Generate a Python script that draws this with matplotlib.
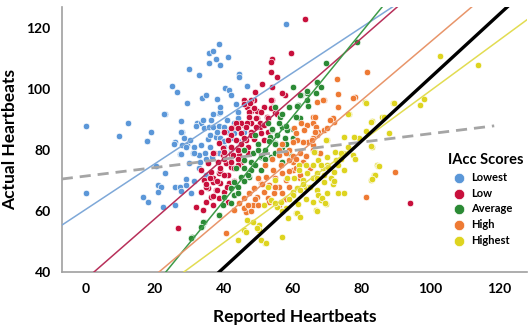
import matplotlib.pyplot as plt
import numpy as np

# group points (reported, actual)
lowest_x = [0, 0, 9.6, 12.2, 19, 17.7, 22.9, 25, 26.4, 29.9, 29.3, 27.5, 28, 25.8,
            17.7, 25.5, 27.3, 29.3, 22.9, 20.8, 21.7, 20.9, 16.5, 18, 22.3, 26, 25.8, 27.3, 27.5, 29, 20.3,
            38.6, 35.7, 37, 35.6, 37.7, 39, 41.3, 32.8, 44.3, 44.3, 40.3, 41.5, 42, 46.8, 33.8, 34.8, 38,
            38.6, 39, 32.3, 33.3, 36.4, 31.9, 34.2, 35.8, 37, 38.6, 40, 43.5, 44, 44, 43, 27.5, 28.4, 28,
            29, 30.2, 31.3, 33.3, 35.3, 36, 37.7, 39, 41, 43, 27.5, 31, 32.8, 34.5, 36.7, 38.6, 40, 42,
            22.6, 58, 31.3, 30, 32.8, 31.3, 29, 30.4, 34.9,
            36, 38, 40, 42, 34, 37, 41, 44, 46, 39, 33, 35]
lowest_y = [88, 66, 84.6, 89, 86, 83, 92, 101, 99, 106.5, 95.4, 89.5, 86, 82.6,
            83, 82, 78.7, 81.6, 72.4, 68.5, 68, 66.2, 64.6, 63, 61.3, 62, 68, 68, 66.5, 70.5, 74.8,
            114.8, 112, 112.5, 108.5, 110, 108, 110.5, 104.6, 105, 104, 100.5, 99.8, 98, 101, 97, 98, 96.7,
            92.2, 92.6, 89, 89, 90, 88, 87.2, 87.5, 87.5, 88, 87.5, 95, 92.5, 90.6, 88.8, 86, 84, 81.6,
            81, 83.3, 81, 81.6, 83.6, 81, 84.3, 84, 86, 85.5, 78.7, 79, 78.4, 79, 77.8, 79, 81, 80,
            91.8, 121.3, 79, 75.7, 74, 70, 68.5, 66, 72,
            85, 86, 83, 84, 90, 92, 90, 83, 86, 94, 76, 77]

low_x = [63.5, 94.2, 26.6, 59.4, 54, 53.6, 55.4, 54, 54, 57.7, 54, 52.7, 54.8,
         51, 49, 45.8, 47.3, 48.8, 46.9, 47.8, 49.8, 51.6, 43, 44, 45.8, 47.8, 49.8, 50.4,
         53.6, 57, 48, 53.6, 46, 47.5, 48.8, 47.3, 50.7, 53.6, 55.6, 47.3, 49.3, 44.9, 46.9, 50.4,
         52.8, 43.5, 42, 44, 46.4, 49.3, 51.6, 40, 42, 44.9, 47.8, 50.7, 52.8, 41.2, 43.5, 46.4,
         48.8, 51.6, 38.6, 39.7, 42, 44, 47, 37.1, 39.7, 42, 44.3, 47,
         37, 40, 42.6, 35.4, 38.2, 40.6, 42, 33.3, 36.2, 38.6, 41.1, 34.2, 36.8, 39, 41.5, 35.4,
         37.7, 40, 33.3, 36.2, 38.6, 34.8, 31.9, 33.9, 41.1, 36.8, 45, 39, 43, 37, 35, 44,
         36, 38, 40, 42, 44, 39, 41, 43, 37, 45, 38, 40, 35, 46, 48, 50, 44, 42]
low_y = [123, 62.6, 54.4, 112, 110, 105.6, 104, 100.6, 96.4, 98, 94, 91, 92.5,
         101.6, 99, 96.4, 95.7, 96.4, 94, 93, 93, 94, 87.5, 88.5, 88.2, 88.8, 90.5, 87.5,
         108.9, 98.7, 96.4, 96.4, 95, 95.4, 93.8, 92.5, 92.5, 93.8, 92, 90.8, 90.5, 89, 89, 89,
         90.5, 88.8, 87.2, 87.2, 87.5, 87.5, 88.2, 86, 85, 85.6, 86, 85.6, 86, 83.3, 83.3, 83.3,
         83.6, 83.3, 82.3, 80.6, 81, 80.6, 81, 79, 78.4, 78.7, 78.4, 79,
         79, 79.3, 78.4, 75.7, 76, 75.7, 74.4, 73.4, 72.8, 72.5, 71.8, 70.2, 69.5, 69.2, 69.2, 67.5,
         66.9, 66.2, 66.2, 64.6, 64.3, 63, 61.3, 60.3, 63, 62, 76, 73, 74, 71, 68, 80,
         71, 70, 72, 76, 77, 74, 68, 70, 65, 82, 67, 77, 69, 84, 85, 82, 75, 81]

average_x = [78.8, 69.8, 30.7, 33.6, 34.2, 38.6, 67.2, 68.1, 60, 62.3, 64.3, 66.7, 61.7, 64.6,
             67, 64.3, 62, 64.3, 54.8, 59, 61.4, 52.8, 56.2, 62, 56.8, 54, 58.3, 53.3, 55.6, 57.7,
             54.8, 57, 48.4, 50.7, 53.6, 45.8, 43.5, 45.8, 47.8, 50.7, 44.9, 47.2, 42.9, 42, 44, 40,
             42.9, 42, 39.7, 38.6, 33.9, 33.3, 30.4, 52, 55, 57, 59, 50, 58, 52, 60, 49, 46, 56, 61,
             48, 50, 53, 55, 51, 54, 47, 49, 58, 60, 46, 44, 52, 57]
average_y = [115.4, 108.5, 51.5, 55, 56.4, 58.7, 102, 100.6, 100.6, 98, 98.7, 98.7, 94.8, 94.4,
             102.3, 99.3, 98, 96.4, 94, 94, 94.4, 88.8, 90.8, 90.5, 87.5, 86.5, 86.5, 84.3, 85, 84,
             82.3, 81, 79, 77.7, 77.7, 76.7, 74, 74, 73.4, 73.4, 71.1, 71.1, 69.5, 67.5, 67.9, 64.6,
             65.2, 62.6, 62, 58.7, 56.4, 54.8, 51.1, 80, 79, 76, 79, 82, 82, 75, 84, 85, 80, 89, 91,
             76, 80, 83, 82, 78, 87, 72, 75, 88, 87, 70, 66, 77, 92]

high_x = [73.3, 67, 69, 66, 71.9, 71.6, 62.3, 64.3, 65.8, 66.7, 63.2, 67.5, 69, 60.3, 60.9, 67.2,
          66, 64.6, 62.9, 61.4, 60, 65.8, 60, 60, 81.2, 89.6, 81.7, 73, 68.7, 73.3, 78, 70.7, 66.4,
          70.1, 66.4, 77.4, 65.5, 56, 58.8, 56.5, 54.2, 57, 52.2, 55, 58, 50.7, 53, 56, 48.8, 51.6,
          54.5, 47.3, 49.8, 52.8, 45.8, 44.3, 48.4, 42.9, 46.4, 40.6, 62, 64, 66, 63, 68, 61, 59, 57,
          50, 48, 46, 62, 65,
          54, 56, 58, 60, 52, 55, 57, 59, 61, 63, 50, 53, 56, 58, 64, 49, 51, 47, 62, 59]
high_y = [94.1, 95.7, 96.4, 90.8, 89.2, 90.5, 88.8, 88.2, 88.8, 87.5, 86.5, 86, 86.5, 87.2, 85.6, 85,
          84, 82.6, 82.6, 83.3, 82.6, 81.6, 76, 73.4, 64.6, 72.8, 105.6, 103.3, 96.4, 98.4, 97.4, 89.8, 90.8,
          87.2, 86, 97, 83.3, 78.4, 76.7, 75, 73.4, 72.5, 71.1, 70.8, 70.2, 69.2, 68.5, 67.9, 67.5, 66.2,
          65.9, 65.9, 64.6, 64.3, 64.3, 62.6, 62, 60.3, 59.7, 52.8, 79, 78, 80, 76, 79, 74, 80, 82,
          62, 60, 61, 71, 74,
          77, 80, 79, 78, 75, 68, 66, 73, 77, 76, 71, 63, 62, 64, 78, 64, 69, 62, 72, 68]

highest_x = [102.9, 113.9, 98, 97, 89, 86, 80.9, 82.9, 76.5, 75, 79.4, 81.4, 88.1, 82.9, 69.9, 66.4,
             72.2, 74.5, 77.4, 84.6, 70.1, 68.7, 81.2, 89.3, 76.2, 86.4, 82.6, 77.7, 82.6, 69.6, 73.9,
             66.1, 70.1, 67.5, 72.5, 61.8, 63.8, 65.8, 68.1, 70.4, 73.3, 84.9, 74.8, 61.8, 64.3, 67.2,
             71.9, 60.3, 62.9, 65.8, 69, 83.5, 82.6, 61.4, 63.8, 60, 67.2, 71.6, 73.3, 74.8, 67.5, 60,
             68.1, 69.6, 61.7, 66.7, 60.9, 85.2, 83.8, 82.9, 68.4, 69.3, 67, 61.2, 57, 58.6, 55.4, 51.9,
             52.8, 54.8, 58.5, 53.6, 56.5, 55, 51.6, 58, 46.9, 48.4, 50.1, 45.8, 50.1, 44, 50.7, 52.2,
             46.4, 49.8,
             63, 65, 67, 69, 71, 64, 66, 62, 70, 72, 76, 78, 74, 59, 57, 62]
highest_y = [111, 107.8, 96.7, 94.8, 95.4, 90.8, 95.7, 89.5, 92, 84.3, 84, 86.2, 85.6, 81, 83.3, 79.4,
             79.4, 79, 78.4, 75.1, 75.1, 74.1, 95.4, 95.4, 92, 90.8, 89.2, 84.3, 81.3, 83.3, 79,
             79.3, 77.7, 76.7, 76.7, 75.1, 75.1, 75.1, 75.1, 74.4, 75.1, 74.8, 73.4, 73.4, 72.5, 72.5,
             72.8, 70.8, 70.2, 70.8, 69.5, 71.8, 70.2, 67.5, 67.9, 66.2, 66.9, 68.9, 65.9, 65.9, 65.2, 65.2,
             63.6, 62.3, 62.3, 60.3, 59.3, 74.8, 71.8, 70.5, 64.3, 62.6, 60, 59.3, 51.5, 57.7, 61.3, 49.5,
             67.9, 70.2, 70.8, 63.6, 63, 62.6, 62, 61, 57, 56.4, 55.4, 53.8, 53.8, 50.5, 50.5, 49.5,
             53, 54.4,
             69, 68, 71, 72, 71, 64, 63, 67, 66, 70, 81, 77, 77, 64, 60, 58]

groups = ['Lowest', 'Low', 'Average', 'High', 'Highest']
point_colors = ['#5b97d8', '#c8103c', '#2b8a35', '#ee7a34', '#ded420']
line_colors = ['#7ea8d8', '#b8305a', '#3d9a48', '#e8956a', '#e2dc52']
xs = [lowest_x, low_x, average_x, high_x, highest_x]
ys = [lowest_y, low_y, average_y, high_y, highest_y]

# fit lines (slope, intercept)
slopes = [0.746, 0.988, 1.385, 0.958, 0.831]
intercepts = [60.6, 37.7, 7.9, 19.7, 16.4]
overall_slope, overall_intercept = 0.139, 71.5
identity_slope, identity_intercept = 1.04, -0.2

plt.rcParams['font.family'] = ['Lato', 'DejaVu Sans']

fig = plt.figure(figsize=(5.28, 3.27), dpi=100)
ax = fig.add_axes([0.117, 0.168, 0.881, 0.811])

for x, y, c, g in zip(xs, ys, point_colors, groups):
    ax.scatter(x, y, s=22, color=c, edgecolors='white', linewidths=0.5, label=g, zorder=2)

xx = np.array([-7, 130])
for m, b, c in zip(slopes, intercepts, line_colors):
    ax.plot(xx, m * xx + b, color=c, lw=1.1, zorder=3)

xg = np.array([-7, 118.5])
ax.plot(xg, overall_slope * xg + overall_intercept, color='#a5a5a5', lw=2, ls=(0, (4, 2.5)), zorder=3)

xb = np.array([38, 130])
ax.plot(xb, identity_slope * xb + identity_intercept, color='black', lw=2.4, zorder=4)

ax.set_xlim(-7, 128)
ax.set_ylim(40, 127)
ax.set_xticks([0, 20, 40, 60, 80, 100, 120])
ax.set_yticks([40, 60, 80, 100, 120])
ax.tick_params(length=0, labelsize=10, pad=8)
for lab in ax.get_xticklabels() + ax.get_yticklabels():
    lab.set_fontweight('bold')
ax.spines['top'].set_visible(False)
ax.spines['right'].set_visible(False)
ax.spines['left'].set_color('#a0a0a0')
ax.spines['bottom'].set_color('#a0a0a0')
ax.spines['left'].set_linewidth(1.2)
ax.spines['bottom'].set_linewidth(1.2)

ax.set_xlabel('Reported Heartbeats', fontsize=12.5, fontweight='bold', labelpad=10)
ax.set_ylabel('Actual Heartbeats', fontsize=12.5, fontweight='bold', labelpad=6)

leg = ax.legend(title='IAcc Scores', loc='upper left', bbox_to_anchor=(0.82, 0.465),
                frameon=False, fontsize=8, title_fontsize=10.5, handletextpad=0.15,
                labelspacing=0.42, markerscale=1.6, alignment='left', borderaxespad=0)
leg.get_title().set_fontweight('bold')
for t in leg.get_texts():
    t.set_fontweight('bold')

fig.savefig('out.png', dpi=100)
